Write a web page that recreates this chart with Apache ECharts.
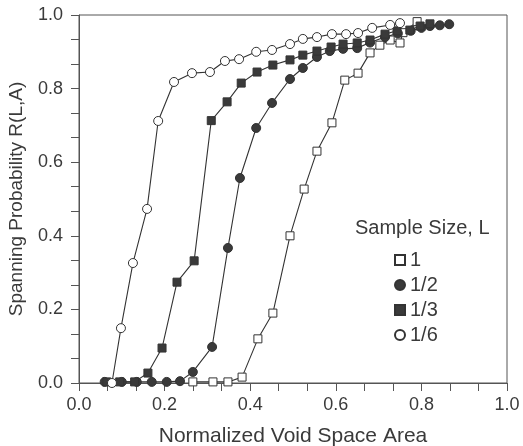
<!DOCTYPE html>
<html>
<head>
<meta charset="utf-8">
<script src="https://cdn.jsdelivr.net/npm/echarts@6/dist/echarts.min.js"></script>
<style>
  html, body { margin: 0; padding: 0; background: #fff; }
  #chart { width: 523px; height: 446px; }
</style>
</head>
<body>
<div id="chart"></div>
<script>
// values
var seriesNames = ['1', '1/2', '1/3', '1/6'];

var sizeOneX = [0.266, 0.313, 0.348, 0.381, 0.418, 0.453, 0.493, 0.526, 0.556, 0.591, 0.621, 0.652, 0.680, 0.703, 0.727, 0.750, 0.757, 0.790];
var sizeOneY = [0.003, 0.003, 0.003, 0.016, 0.120, 0.190, 0.400, 0.527, 0.630, 0.707, 0.823, 0.842, 0.897, 0.918, 0.932, 0.924, 0.952, 0.982];

var sizeHalfX = [0.060, 0.100, 0.135, 0.170, 0.205, 0.236, 0.266, 0.311, 0.348, 0.376, 0.414, 0.451, 0.493, 0.523, 0.556, 0.586, 0.617, 0.650, 0.680, 0.715, 0.745, 0.775, 0.800, 0.820, 0.843, 0.865];
var sizeHalfY = [0.003, 0.003, 0.003, 0.003, 0.003, 0.005, 0.030, 0.098, 0.367, 0.557, 0.693, 0.761, 0.826, 0.856, 0.886, 0.902, 0.908, 0.910, 0.925, 0.940, 0.950, 0.957, 0.965, 0.970, 0.972, 0.975];

var sizeThirdX = [0.065, 0.095, 0.130, 0.161, 0.194, 0.229, 0.269, 0.309, 0.346, 0.379, 0.416, 0.453, 0.493, 0.523, 0.556, 0.589, 0.617, 0.650, 0.680, 0.715, 0.743, 0.773, 0.797, 0.820];
var sizeThirdY = [0.003, 0.003, 0.003, 0.027, 0.095, 0.274, 0.332, 0.713, 0.764, 0.815, 0.845, 0.864, 0.878, 0.891, 0.902, 0.913, 0.921, 0.924, 0.932, 0.948, 0.957, 0.959, 0.970, 0.976];

var sizeSixthX = [0.077, 0.098, 0.126, 0.159, 0.185, 0.222, 0.264, 0.306, 0.341, 0.374, 0.414, 0.451, 0.493, 0.523, 0.556, 0.591, 0.624, 0.652, 0.685, 0.727, 0.750];
var sizeSixthY = [0.000, 0.149, 0.326, 0.473, 0.712, 0.818, 0.842, 0.845, 0.875, 0.880, 0.900, 0.905, 0.921, 0.935, 0.940, 0.948, 0.948, 0.951, 0.965, 0.973, 0.978];

function pairs(xs, ys) {
    return xs.map(function (x, i) { return [x, ys[i]]; });
}

var ink = '#333';
var txt = '#3a3a3a';
var family = 'Liberation Sans, Arial, sans-serif';
var fmt = function (v) { return v.toFixed(1); };

function makeSeries(name, xs, ys, symbol, open) {
    return {
        name: name,
        type: 'line',
        data: pairs(xs, ys),
        symbol: symbol,
        symbolSize: symbol === 'rect' ? 8 : 9,
        showAllSymbol: true,
        lineStyle: {color: ink, width: 1.1},
        itemStyle: {
            color: open ? '#fff' : '#3a3a3a',
            borderColor: ink,
            borderWidth: 1
        },
        emphasis: {disabled: true},
        z: 2
    };
}

var axisCommon = {
    type: 'value',
    min: 0,
    max: 1,
    interval: 0.2,
    axisLine: {show: true, lineStyle: {color: '#555', width: 1}},
    axisTick: {show: true, inside: false, length: 8, lineStyle: {color: '#555'}},
    minorTick: {show: true, splitNumber: 3, length: 8, lineStyle: {color: '#555'}},
    splitLine: {show: false},
    nameLocation: 'middle'
};

var chart = echarts.init(document.getElementById('chart'));
chart.setOption({
    backgroundColor: '#fff',
    animation: false,
    title: {
        text: 'Sample Size, L',
        left: 350,
        top: 213,
        textStyle: {fontSize: 20, fontWeight: 'normal', color: txt, fontFamily: family}
    },
    legend: {
        orient: 'vertical',
        left: 389,
        top: 245,
        itemWidth: 10,
        itemHeight: 10,
        itemGap: 5,
        data: [
            {name: '1', icon: 'rect'},
            {name: '1/2', icon: 'circle'},
            {name: '1/3', icon: 'rect'},
            {name: '1/6', icon: 'circle'}
        ],
        textStyle: {fontSize: 20, color: txt, fontFamily: family}
    },
    grid: {
        left: 79, right: 16, top: 15, bottom: 63,
        outerBoundsMode: 'none',
        containLabel: false,
        show: true, borderColor: '#555', borderWidth: 1, backgroundColor: 'transparent'
    },
    xAxis: Object.assign({}, axisCommon, {
        name: 'Normalized Void Space Area',
        nameGap: 43,
        nameTextStyle: {color: txt, fontSize: 21, fontFamily: family},
        axisLabel: {formatter: fmt, margin: 13, color: txt, fontSize: 18, fontFamily: family}
    }),
    yAxis: Object.assign({}, axisCommon, {
        name: 'Spanning Probability R(L,A)',
        nameGap: 53,
        nameTextStyle: {color: txt, fontSize: 19, fontFamily: family},
        axisLabel: {formatter: fmt, margin: 16, color: txt, fontSize: 18, fontFamily: family}
    }),
    series: [
        makeSeries(seriesNames[0], sizeOneX, sizeOneY, 'rect', true),
        makeSeries(seriesNames[1], sizeHalfX, sizeHalfY, 'circle', false),
        makeSeries(seriesNames[2], sizeThirdX, sizeThirdY, 'rect', false),
        makeSeries(seriesNames[3], sizeSixthX, sizeSixthY, 'circle', true)
    ]
});
</script>
</body>
</html>
